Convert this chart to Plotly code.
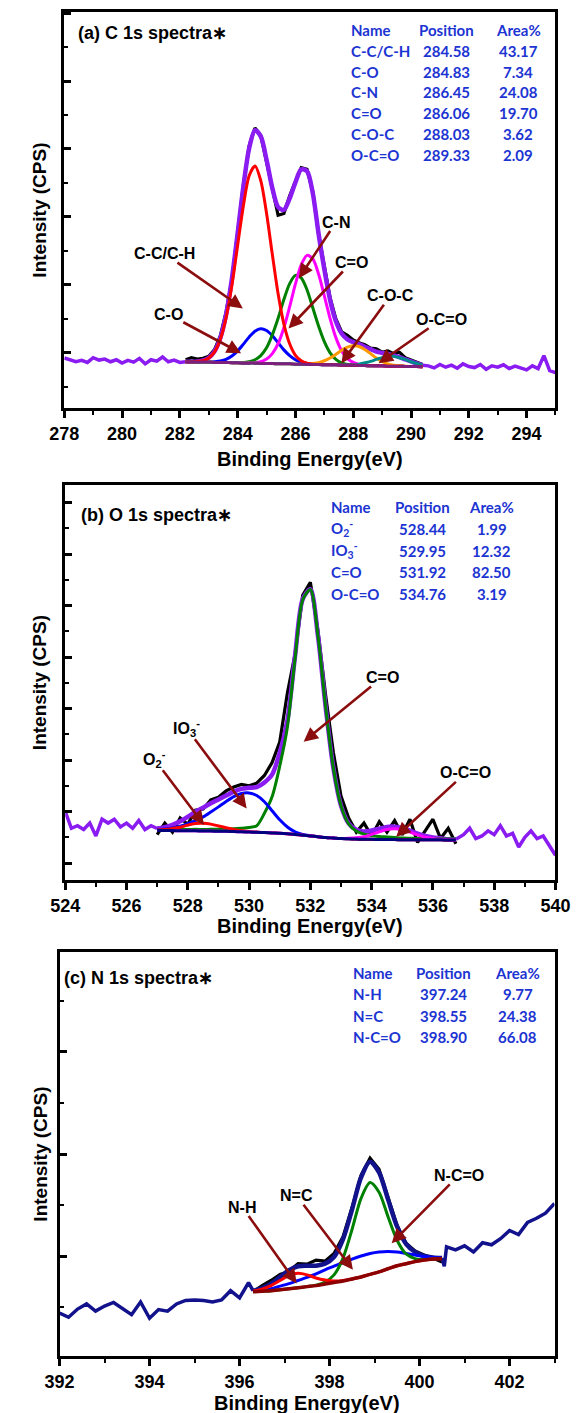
import plotly.graph_objects as go

W, H = 579, 1413

# ================= DATA =================
# ---- Panel (a) C 1s (intensity in arbitrary 10^3 CPS units) ----
a_be_left = [278.0, 278.2, 278.4, 278.6, 278.8, 279.0, 279.2, 279.4, 279.6, 279.8, 280.0,
             280.2, 280.4, 280.6, 280.8, 281.0, 281.2, 281.4, 281.6, 281.8, 282.0, 282.2]
a_raw_left = [0.85, 0.80, 0.74, 0.78, 0.72, 0.86, 0.79, 0.82, 0.74, 0.80, 0.70,
              0.78, 0.73, 0.84, 0.68, 0.80, 0.76, 0.88, 0.74, 0.79, 0.72, 0.74]
a_be_right = [290.4, 290.6, 290.8, 291.0, 291.2, 291.4, 291.6, 291.8, 292.0, 292.2, 292.4, 292.6,
              292.8, 293.0, 293.2, 293.4, 293.6, 293.8, 294.0, 294.2, 294.4, 294.6, 294.8, 295.0]
a_raw_right = [0.64, 0.62, 0.56, 0.66, 0.58, 0.64, 0.55, 0.68, 0.60, 0.57, 0.66, 0.52,
               0.62, 0.58, 0.65, 0.54, 0.61, 0.56, 0.50, 0.62, 0.54, 0.92, 0.48, 0.42]
a_be_fit = [282.2, 282.4, 282.6, 282.8, 283.0, 283.2, 283.4, 283.6, 283.8, 284.0,
            284.2, 284.4, 284.6, 284.8, 285.0, 285.2, 285.4, 285.6, 285.8, 286.0,
            286.2, 286.4, 286.6, 286.8, 287.0, 287.2, 287.4, 287.6, 287.8, 288.0,
            288.2, 288.4, 288.6, 288.8, 289.0, 289.2, 289.4, 289.6, 289.8, 290.0,
            290.2, 290.4]
a_raw_fit = [0.80, 0.86, 0.82, 0.84, 0.90, 1.10, 1.50, 2.20, 3.15, 4.50,
             5.95, 7.10, 7.62, 7.40, 6.60, 5.75, 5.05, 5.10, 5.62, 6.05,
             6.45, 6.40, 5.75, 4.50, 3.50, 2.62, 2.00, 1.62, 1.52, 1.38,
             1.30, 1.24, 1.14, 1.12, 1.02, 1.06, 0.98, 1.02, 0.86, 0.80,
             0.72, 0.66]
a_envelope = [0.74, 0.74, 0.75, 0.78, 0.86, 1.05, 1.44, 2.13, 3.18, 4.52,
              5.91, 7.03, 7.55, 7.37, 6.68, 5.85, 5.29, 5.21, 5.55, 6.02,
              6.40, 6.35, 5.70, 4.51, 3.46, 2.56, 1.93, 1.57, 1.40, 1.32,
              1.26, 1.18, 1.11, 1.04, 1.00, 0.97, 0.93, 0.88, 0.81, 0.75,
              0.69, 0.64]
a_background = [0.74, 0.74, 0.73, 0.73, 0.73, 0.72, 0.72, 0.72, 0.71, 0.71,
                0.70, 0.70, 0.70, 0.69, 0.69, 0.69, 0.68, 0.68, 0.68, 0.67,
                0.67, 0.66, 0.66, 0.66, 0.65, 0.65, 0.65, 0.64, 0.64, 0.64,
                0.63, 0.63, 0.62, 0.62, 0.62, 0.61, 0.61, 0.61, 0.60, 0.60,
                0.60, 0.59]
a_cc = [0.74, 0.74, 0.75, 0.77, 0.85, 1.03, 1.40, 2.04, 2.98, 4.17,
        5.34, 6.22, 6.50, 6.07, 5.11, 3.90, 2.74, 1.85, 1.27, 0.93,
        0.77, 0.70, 0.67, 0.66, 0.65, 0.65, 0.65, 0.64, 0.64, 0.64,
        0.63, 0.63, 0.62, 0.62, 0.62, 0.61, 0.61, 0.61, 0.60, 0.60,
        0.60, 0.59]
a_co = [0.74, 0.74, 0.73, 0.73, 0.73, 0.74, 0.76, 0.81, 0.91, 1.06,
        1.26, 1.47, 1.64, 1.71, 1.66, 1.51, 1.30, 1.09, 0.92, 0.80,
        0.72, 0.69, 0.67, 0.66, 0.65, 0.65, 0.65, 0.64, 0.64, 0.64,
        0.63, 0.63, 0.62, 0.62, 0.62, 0.61, 0.61, 0.61, 0.60, 0.60,
        0.60, 0.59]
a_c_dbl_o = [0.74, 0.74, 0.73, 0.73, 0.73, 0.72, 0.72, 0.72, 0.71, 0.71,
             0.72, 0.74, 0.80, 0.92, 1.15, 1.53, 2.02, 2.57, 3.04, 3.28,
             3.21, 2.86, 2.33, 1.79, 1.33, 1.00, 0.81, 0.71, 0.66, 0.64,
             0.63, 0.63, 0.62, 0.62, 0.62, 0.61, 0.61, 0.61, 0.60, 0.60,
             0.60, 0.59]
a_cn = [0.74, 0.74, 0.73, 0.73, 0.73, 0.72, 0.72, 0.72, 0.71, 0.71,
        0.70, 0.71, 0.71, 0.74, 0.82, 0.98, 1.27, 1.74, 2.36, 3.03,
        3.59, 3.87, 3.77, 3.32, 2.68, 2.01, 1.45, 1.06, 0.83, 0.72,
        0.66, 0.64, 0.63, 0.62, 0.62, 0.61, 0.61, 0.61, 0.60, 0.60,
        0.60, 0.59]
a_coc = [0.74, 0.74, 0.73, 0.73, 0.73, 0.72, 0.72, 0.72, 0.71, 0.71,
         0.70, 0.70, 0.70, 0.69, 0.69, 0.69, 0.68, 0.68, 0.68, 0.67,
         0.67, 0.67, 0.69, 0.71, 0.77, 0.85, 0.96, 1.08, 1.17, 1.21,
         1.19, 1.10, 0.98, 0.85, 0.75, 0.68, 0.64, 0.62, 0.61, 0.60,
         0.60, 0.59]
a_oco = [0.74, 0.74, 0.73, 0.73, 0.73, 0.72, 0.72, 0.72, 0.71, 0.71,
         0.70, 0.70, 0.70, 0.69, 0.69, 0.69, 0.68, 0.68, 0.68, 0.67,
         0.67, 0.66, 0.66, 0.66, 0.65, 0.65, 0.65, 0.65, 0.65, 0.65,
         0.67, 0.71, 0.75, 0.81, 0.86, 0.90, 0.90, 0.86, 0.81, 0.74,
         0.69, 0.64]
a_tab_names = ["C-C/C-H", "C-O", "C-N", "C=O", "C-O-C", "O-C=O"]
a_tab_pos = ["284.58", "284.83", "286.45", "286.06", "288.03", "289.33"]
a_tab_area = ["43.17", "7.34", "24.08", "19.70", "3.62", "2.09"]
a_xticks = [278, 280, 282, 284, 286, 288, 290, 292, 294]

# ---- Panel (b) O 1s ----
b_be_left = [524.0, 524.2, 524.4, 524.6, 524.8, 525.0, 525.2, 525.4, 525.6, 525.8,
             526.0, 526.2, 526.4, 526.6, 526.8, 527.0]
b_raw_left = [2.00, 1.35, 1.45, 1.30, 1.55, 1.05, 1.70, 1.55, 1.70, 1.40,
              1.55, 1.35, 1.65, 1.30, 1.45, 1.34]
b_be_right = [536.75, 537.0, 537.2, 537.4, 537.6, 537.8, 538.0, 538.2, 538.4, 538.6,
              538.8, 539.0, 539.2, 539.4, 539.6, 539.8, 540.0]
b_raw_right = [0.92, 1.10, 1.35, 0.95, 1.05, 1.25, 1.10, 1.45, 1.05, 1.15,
               0.62, 1.00, 1.25, 0.95, 1.05, 0.70, 0.30]
b_be_fit = [527.0, 527.25, 527.5, 527.75, 528.0, 528.25, 528.5, 528.75, 529.0, 529.25,
            529.5, 529.75, 530.0, 530.25, 530.5, 530.75, 531.0, 531.25, 531.5, 531.75,
            532.0, 532.25, 532.5, 532.75, 533.0, 533.25, 533.5, 533.75, 534.0, 534.25,
            534.5, 534.75, 535.0, 535.25, 535.5, 535.75, 536.0, 536.25, 536.5, 536.75]
b_raw_fit = [1.10, 1.55, 1.20, 1.75, 1.50, 2.05, 2.10, 2.45, 2.55, 2.80,
             2.95, 3.05, 3.00, 3.10, 3.40, 3.90, 4.70, 6.60, 8.10, 10.40,
             10.90, 9.00, 6.50, 4.30, 2.60, 1.75, 1.20, 1.55, 1.05, 1.60,
             1.20, 1.65, 1.10, 1.70, 0.80, 1.25, 1.70, 0.95, 1.35, 0.75]
b_envelope = [1.34, 1.39, 1.48, 1.62, 1.80, 1.99, 2.15, 2.32, 2.47, 2.62,
              2.77, 2.88, 2.92, 2.95, 3.13, 3.43, 4.28, 5.53, 8.04, 10.25,
              10.63, 8.80, 6.05, 3.70, 2.23, 1.54, 1.29, 1.22, 1.26, 1.33,
              1.40, 1.41, 1.36, 1.26, 1.14, 1.05, 0.99, 0.96, 0.92, 0.92]
b_background = [1.26, 1.26, 1.26, 1.25, 1.25, 1.25, 1.24, 1.24, 1.23, 1.23,
                1.22, 1.21, 1.20, 1.19, 1.18, 1.17, 1.16, 1.14, 1.11, 1.08,
                1.05, 1.02, 0.99, 0.97, 0.95, 0.94, 0.93, 0.92, 0.92, 0.91,
                0.91, 0.91, 0.90, 0.90, 0.90, 0.90, 0.90, 0.90, 0.89, 0.89]
b_o2 = [1.28, 1.30, 1.34, 1.39, 1.47, 1.53, 1.54, 1.51, 1.44, 1.37,
        1.30, 1.25, 1.22, 1.20, 1.18, 1.17, 1.16, 1.14, 1.11, 1.08,
        1.05, 1.02, 0.99, 0.97, 0.95, 0.94, 0.93, 0.92, 0.92, 0.91,
        0.91, 0.91, 0.90, 0.90, 0.90, 0.90, 0.90, 0.90, 0.89, 0.89]
b_io3 = [1.29, 1.32, 1.36, 1.43, 1.53, 1.65, 1.79, 1.98, 2.18, 2.39,
         2.58, 2.70, 2.72, 2.62, 2.38, 2.03, 1.68, 1.40, 1.21, 1.11,
         1.06, 1.02, 0.99, 0.97, 0.95, 0.94, 0.93, 0.92, 0.92, 0.91,
         0.91, 0.91, 0.90, 0.90, 0.90, 0.90, 0.90, 0.90, 0.89, 0.89]
b_c_dbl_o = [1.29, 1.29, 1.30, 1.30, 1.30, 1.31, 1.30, 1.31, 1.31, 1.32,
             1.33, 1.35, 1.38, 1.45, 1.93, 2.57, 3.76, 5.27, 7.94, 10.22,
             10.62, 8.80, 6.05, 3.70, 2.23, 1.52, 1.24, 1.12, 1.07, 1.03,
             1.01, 0.99, 0.97, 0.96, 0.95, 0.95, 0.94, 0.94, 0.93, 0.93]
b_oco = [1.26, 1.26, 1.26, 1.25, 1.25, 1.25, 1.24, 1.24, 1.23, 1.23,
         1.22, 1.21, 1.20, 1.19, 1.18, 1.17, 1.16, 1.14, 1.11, 1.08,
         1.05, 1.02, 0.99, 0.97, 0.95, 0.96, 0.98, 1.02, 1.11, 1.21,
         1.30, 1.33, 1.29, 1.20, 1.09, 1.00, 0.95, 0.92, 0.90, 0.89]
b_tab_names = ["O<sub>2</sub><sup>-</sup>", "IO<sub>3</sub><sup>-</sup>", "C=O", "O-C=O"]
b_tab_pos = ["528.44", "529.95", "531.92", "534.76"]
b_tab_area = ["1.99", "12.32", "82.50", "3.19"]
b_xticks = [524, 526, 528, 530, 532, 534, 536, 538, 540]

# ---- Panel (c) N 1s ----
c_be_left = [392.0, 392.2, 392.4, 392.6, 392.8, 393.0, 393.2, 393.4, 393.6, 393.8,
             394.0, 394.2, 394.4, 394.6, 394.8, 395.0, 395.2, 395.4, 395.6, 395.8,
             396.0, 396.2, 396.3]
c_raw_left = [-0.12, -0.20, -0.04, 0.06, -0.08, 0.02, 0.09, -0.03, -0.15, 0.10,
              -0.22, -0.05, -0.08, 0.06, 0.13, 0.14, 0.13, 0.10, 0.14, 0.32,
              0.18, 0.48, 0.32]
c_be_right = [400.5, 400.55, 400.6, 400.8, 401.0, 401.2, 401.4, 401.6, 401.8, 402.0,
              402.2, 402.4, 402.6, 402.8, 403.0]
c_raw_right = [0.96, 0.80, 1.18, 1.12, 1.20, 1.08, 1.26, 1.22, 1.34, 1.50,
               1.42, 1.66, 1.74, 1.84, 2.03]
c_be_fit = [396.3, 396.5, 396.7, 396.9, 397.1, 397.3, 397.5, 397.7, 397.9, 398.1,
            398.3, 398.5, 398.7, 398.9, 399.1, 399.3, 399.5, 399.7, 399.9, 400.1,
            400.3, 400.5]
c_raw_fit = [0.30, 0.42, 0.52, 0.64, 0.70, 0.85, 0.84, 0.92, 0.90, 1.05,
             1.38, 1.95, 2.58, 2.92, 2.70, 2.15, 1.60, 1.25, 1.10, 1.02,
             0.96, 0.88]
c_envelope = [0.32, 0.37, 0.46, 0.59, 0.72, 0.80, 0.81, 0.81, 0.85, 0.98,
              1.33, 1.91, 2.54, 2.85, 2.64, 2.11, 1.58, 1.24, 1.08, 1.00,
              0.97, 0.96]
c_background = [0.30, 0.31, 0.32, 0.34, 0.36, 0.38, 0.40, 0.42, 0.45, 0.48,
                0.51, 0.55, 0.59, 0.64, 0.69, 0.75, 0.81, 0.85, 0.89, 0.92,
                0.94, 0.95]
c_nh = [0.31, 0.35, 0.42, 0.52, 0.62, 0.66, 0.63, 0.57, 0.53, 0.51,
        0.52, 0.55, 0.59, 0.64, 0.69, 0.75, 0.81, 0.85, 0.89, 0.92,
        0.94, 0.95]
c_nc = [0.31, 0.33, 0.36, 0.41, 0.46, 0.52, 0.58, 0.65, 0.73, 0.80,
        0.87, 0.94, 1.00, 1.05, 1.08, 1.09, 1.08, 1.05, 1.02, 0.99,
        0.97, 0.96]
c_nco = [0.30, 0.31, 0.32, 0.34, 0.36, 0.38, 0.40, 0.43, 0.49, 0.63,
         0.96, 1.52, 2.13, 2.44, 2.25, 1.77, 1.31, 1.04, 0.95, 0.93,
         0.94, 0.95]
c_tab_names = ["N-H", "N=C", "N-C=O"]
c_tab_pos = ["397.24", "398.55", "398.90"]
c_tab_area = ["9.77", "24.38", "66.08"]
c_xticks = [392, 394, 396, 398, 400, 402]

# ================= STYLE / LAYOUT =================
PURPLE = "#8a1cf2"
NAVY = "#12128c"
ARROW = "#8b0d0d"
TABLE_BLUE = "#1c34d2"
AXFONT = "Liberation Sans, Arial, sans-serif"
TFONT = "Lato, Carlito, Calibri, sans-serif"

# panel frames in pixels: (left, right, top, bottom)
frames = {
    "a": (52, 570, 12, 408),
    "b": (53, 570, 485, 880),
    "c": (47, 569, 952, 1356),
}


def xdom(f):
    return [f[0] / W, f[1] / W]


def ydom(f):
    return [1 - f[3] / H, 1 - f[2] / H]


def px(x):
    return x / W


def py(y):
    return 1 - y / H


fig = go.Figure()


def line(x, y, color, width, xa, ya, shape="spline"):
    ln = dict(color=color, width=width, shape=shape)
    if shape == "spline":
        ln["smoothing"] = 0.8
    fig.add_trace(go.Scatter(x=x, y=y, mode="lines", xaxis=xa, yaxis=ya, line=ln,
                             showlegend=False, hoverinfo="skip"))


# panel (a)
line(a_be_fit, a_raw_fit, "black", 3.2, "x", "y", "linear")
line(a_be_left, a_raw_left, PURPLE, 3.5, "x", "y", "linear")
line(a_be_right, a_raw_right, PURPLE, 3.5, "x", "y", "linear")
line(a_be_fit, a_envelope, PURPLE, 4.5, "x", "y")
line(a_be_fit, a_co, "#0000ff", 3, "x", "y")
line(a_be_fit, a_c_dbl_o, "#008000", 3, "x", "y")
line(a_be_fit, a_cn, "#ff00ff", 3, "x", "y")
line(a_be_fit, a_coc, "#ff9900", 3, "x", "y")
line(a_be_fit, a_oco, "#008b8b", 3, "x", "y")
line(a_be_fit, a_cc, "#ff0000", 3, "x", "y")
line(a_be_fit, a_background, "#7d1f7d", 3, "x", "y")

# panel (b)
line(b_be_fit, b_raw_fit, "black", 3.2, "x2", "y2", "linear")
line(b_be_left, b_raw_left, PURPLE, 3.5, "x2", "y2", "linear")
line(b_be_right, b_raw_right, PURPLE, 3.5, "x2", "y2", "linear")
line(b_be_fit, b_envelope, PURPLE, 4.5, "x2", "y2")
line(b_be_fit, b_c_dbl_o, "#008000", 3, "x2", "y2")
line(b_be_fit, b_io3, "#0000ff", 3, "x2", "y2")
line(b_be_fit, b_o2, "#ff0000", 3, "x2", "y2")
line(b_be_fit, b_oco, "#ff00ff", 3, "x2", "y2")
line(b_be_fit, b_background, "#00007f", 3, "x2", "y2")

# panel (c)
line(c_be_fit, c_raw_fit, "black", 3.2, "x3", "y3", "linear")
line(c_be_left, c_raw_left, NAVY, 3.5, "x3", "y3", "linear")
line(c_be_right, c_raw_right, NAVY, 3.5, "x3", "y3", "linear")
line(c_be_fit, c_envelope, NAVY, 4.5, "x3", "y3")
line(c_be_fit, c_nc, "#0000ff", 3, "x3", "y3")
line(c_be_fit, c_nco, "#008000", 3, "x3", "y3")
line(c_be_fit, c_nh, "#ff0000", 3, "x3", "y3")
line(c_be_fit, c_background, "#8b0000", 3.5, "x3", "y3")


def xaxis_cfg(rng, ticks, f, anchor):
    return dict(domain=xdom(f), range=rng, anchor=anchor, showline=True, linewidth=3,
                linecolor="black", mirror=True, ticks="outside", ticklen=7, tickwidth=2.5,
                tickcolor="black", tickvals=ticks, showgrid=False, zeroline=False,
                ticklabeloverflow="allow",
                minor=dict(dtick=1, tick0=rng[0], ticks="outside", ticklen=4, tickwidth=2,
                           tickcolor="black", showgrid=False),
                tickfont=dict(family=AXFONT, size=18, color="black", weight="bold"))


def yaxis_cfg(rng, f, anchor, tick0, dtick):
    return dict(domain=ydom(f), range=rng, anchor=anchor, showline=True, linewidth=3,
                linecolor="black", mirror=True, ticks="inside", ticklen=7, tickwidth=2.5,
                tickcolor="black", tick0=tick0, dtick=dtick, showticklabels=False,
                showgrid=False, zeroline=False,
                minor=dict(dtick=dtick / 2, tick0=tick0 - dtick / 2, ticks="inside",
                           ticklen=4, tickwidth=2, tickcolor="black", showgrid=False))


fig.update_layout(
    width=W, height=H, margin=dict(l=0, r=0, t=0, b=0),
    paper_bgcolor="white", plot_bgcolor="white", showlegend=False,
    xaxis=xaxis_cfg([278, 295], a_xticks, frames["a"], "y"),
    yaxis=yaxis_cfg([-0.62, 11.03], frames["a"], "x", 1, 2),
    xaxis2=xaxis_cfg([524, 540], b_xticks, frames["b"], "y2"),
    yaxis2=yaxis_cfg([-0.66, 14.68], frames["b"], "x2", 0, 2),
    xaxis3=xaxis_cfg([392, 403], c_xticks, frames["c"], "y3"),
    yaxis3=yaxis_cfg([-0.96, 6.96], frames["c"], "x3", 1, 2),
)

ann = []


def text(x, y, s, size, color="black", xanchor="center", family=AXFONT, angle=0):
    ann.append(dict(x=px(x), y=py(y), xref="paper", yref="paper", text=s, showarrow=False,
                    xanchor=xanchor, yanchor="middle", textangle=angle,
                    font=dict(family=family, size=size, color=color, weight="bold")))


# axis titles
for key, ylab in (("a", 459), ("b", 926), ("c", 1403)):
    f = frames[key]
    text((f[0] + f[1]) / 2, ylab, "Binding Energy(eV)", 20)
    text(26, (f[2] + f[3]) / 2, "Intensity (CPS)", 19, angle=-90)

# panel titles
text(64, 33, "(a) C 1s spectra∗", 18, xanchor="left")
text(67, 515, "(b) O 1s spectra∗", 18, xanchor="left")
text(50, 978, "(c) N 1s spectra∗", 18, xanchor="left")


def table(names, pos, area, x_name, x_pos, x_area, y0, dy):
    text(x_name, y0, "Name", 15, TABLE_BLUE, "left", TFONT)
    text(x_pos, y0, "Position", 15, TABLE_BLUE, "center", TFONT)
    text(x_area, y0, "Area%", 15, TABLE_BLUE, "center", TFONT)
    for i, (n, p, a) in enumerate(zip(names, pos, area)):
        yy = y0 + dy * (i + 1)
        text(x_name, yy, n, 15, TABLE_BLUE, "left", TFONT)
        text(x_pos, yy, p, 15, TABLE_BLUE, "center", TFONT)
        text(x_area, yy, a, 15, TABLE_BLUE, "center", TFONT)


table(a_tab_names, a_tab_pos, a_tab_area, 352, 455, 531, 30, 20.8)
table(b_tab_names, b_tab_pos, b_tab_area, 331, 430, 503, 507, 21.8)
table(c_tab_names, c_tab_pos, c_tab_area, 354, 452, 530, 973, 21.4)


# labelled arrows: label sits at the arrow tail, arrow points to the component
def labelled_arrow(xa, ya, head, lab_pos, s):
    ann.append(dict(x=head[0], y=head[1], ax=lab_pos[0], ay=lab_pos[1], xref=xa, yref=ya,
                    axref=xa, ayref=ya, text=s, showarrow=True, arrowhead=2,
                    arrowsize=1.1, arrowwidth=2.6, arrowcolor=ARROW, standoff=0,
                    borderpad=0,
                    font=dict(family=AXFONT, size=16, color="black", weight="bold")))


a_labels = [("C-C/C-H", (284.18, 2.31), (281.47, 3.92)),
            ("C-O", (284.12, 0.99), (281.6, 2.14)),
            ("C-N", (286.12, 3.20), (287.41, 4.85)),
            ("C=O", (285.76, 1.72), (287.94, 3.66)),
            ("C-O-C", (287.59, 0.70), (289.29, 2.68)),
            ("O-C=O", (288.88, 0.70), (291.06, 1.99))]
for s, h, p in a_labels:
    labelled_arrow("x", "y", h, p, s)

b_labels = [("C=O", (531.78, 4.71), (534.34, 7.20)),
            ("IO<sub>3</sub><sup>-</sup>", (529.92, 2.12), (527.95, 5.25)),
            ("O<sub>2</sub><sup>-</sup>", (528.53, 1.48), (526.9, 4.05)),
            ("O-C=O", (534.80, 1.02), (537.07, 3.50))]
for s, h, p in b_labels:
    labelled_arrow("x2", "y2", h, p, s)

c_labels = [("N-H", (397.27, 0.46), (396.06, 1.96)),
            ("N=C", (398.52, 0.73), (397.27, 2.18)),
            ("N-C=O", (399.38, 1.25), (400.87, 2.58))]
for s, h, p in c_labels:
    labelled_arrow("x3", "y3", h, p, s)

fig.update_layout(annotations=ann)
fig.write_html("out.html")
